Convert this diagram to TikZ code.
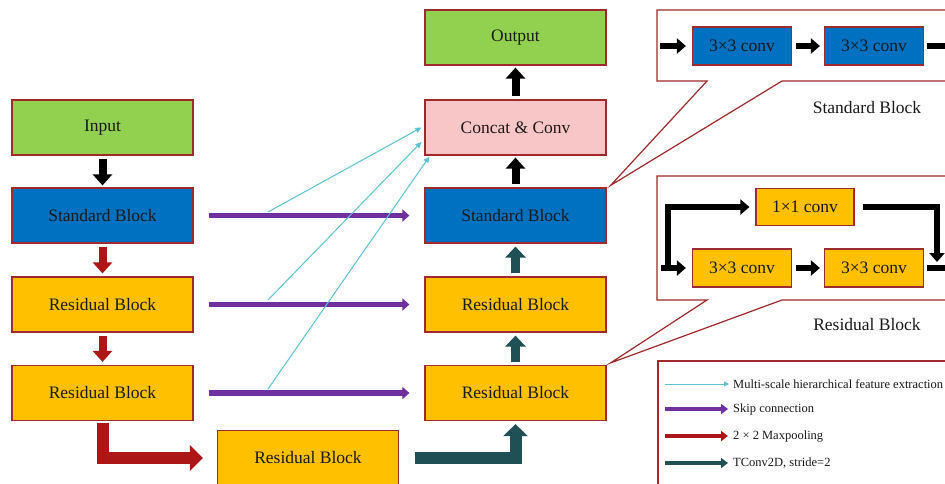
\documentclass[tikz,border=0pt]{standalone}
\usepackage{fontspec}
\setmainfont{Liberation Serif}
\usetikzlibrary{arrows.meta}
\definecolor{bgreen}{HTML}{92D050}
\definecolor{bblue}{HTML}{0070C0}
\definecolor{borange}{HTML}{FFC000}
\definecolor{bpink}{HTML}{F8C6C6}
\definecolor{bborder}{HTML}{9E2A2B}
\definecolor{bpurple}{HTML}{7030A0}
\definecolor{bred}{HTML}{AD1616}
\definecolor{bteal}{HTML}{1E5055}
\definecolor{bcyan}{HTML}{5BC3D3}
\definecolor{btext}{HTML}{1A1A1A}
\begin{document}
\begin{tikzpicture}[x=1pt,y=-1pt,
  blk/.style={draw=bborder, line width=1.2pt, minimum width=181pt, minimum height=55pt, inner sep=0pt, text=btext, font=\fontsize{17.5}{20}\selectfont},
  sblk/.style={draw=bborder, line width=1.2pt, minimum width=99pt, minimum height=38pt, inner sep=0pt, text=btext, font=\fontsize{17.5}{20}\selectfont},
  lbl/.style={text=btext, font=\fontsize{17.5}{20}\selectfont},
  leg/.style={text=btext, font=\fontsize{12.5}{14}\selectfont, anchor=west, inner sep=0pt},
  callout/.style={draw=bborder, line width=1.2pt, fill=white},
  blackarr/.style={black, line width=8pt, -{Triangle[width=19pt,length=11pt]}},
  redarr/.style={bred, line width=8pt, -{Triangle[width=19pt,length=11pt]}},
  tealarr/.style={bteal, line width=9pt, -{Triangle[width=20pt,length=11pt]}},
  purarr/.style={bpurple, line width=5.5pt, -{Triangle[width=12pt,length=7pt]}},
  cyanarr/.style={bcyan, line width=1pt, -{Triangle[width=5.5pt,length=6pt]}},
  bigred/.style={bred, line width=12pt, line join=miter, -{Triangle[width=25pt,length=13pt]}},
  bigteal/.style={bteal, line width=12pt, line join=miter, -{Triangle[width=24pt,length=12pt]}},
  smallarr/.style={black, line width=6.5pt, line join=miter, -{Triangle[width=15pt,length=9pt]}},
  legpur/.style={bpurple, line width=4.5pt, -{Triangle[width=10pt,length=7pt]}},
  legred/.style={bred, line width=4.5pt, -{Triangle[width=10pt,length=7pt]}},
  legteal/.style={bteal, line width=4.5pt, -{Triangle[width=10pt,length=7pt]}}
]
\clip (0,0) rectangle (945,483);
\fill[white] (0,0) rectangle (945,483);

% left column
\node[blk, fill=bgreen] (in) at (102.5,127.5) {Input};
\node[blk, fill=bblue] (sb1) at (102.5,215.5) {Standard Block};
\node[blk, fill=borange] (rb1) at (102.5,304.5) {Residual Block};
\node[blk, fill=borange] (rb2) at (102.5,393) {Residual Block};
\node[blk, fill=borange] (rb0) at (308,458) {Residual Block};

% middle column
\node[blk, fill=bgreen] (out) at (515.5,37.5) {Output};
\node[blk, fill=bpink] (cc) at (515.5,127.5) {Concat \& Conv};
\node[blk, fill=bblue] (sb2) at (515.5,215.5) {Standard Block};
\node[blk, fill=borange] (rb3) at (515.5,304.5) {Residual Block};
\node[blk, fill=borange] (rb4) at (515.5,393) {Residual Block};

% vertical arrows
\draw[blackarr, shorten <=3pt, shorten >=2pt] (in) -- (sb1);
\draw[redarr, shorten <=3pt, shorten >=3pt] (sb1) -- (rb1);
\draw[redarr, shorten <=3pt, shorten >=3pt] (rb1) -- (rb2);
\draw[blackarr, shorten <=3pt, shorten >=2pt] (sb2) -- (cc);
\draw[blackarr, shorten <=3pt, shorten >=2pt] (cc) -- (out);
\draw[tealarr, shorten <=3pt, shorten >=3pt] (rb3) -- (sb2);
\draw[tealarr, shorten <=3pt, shorten >=3pt] (rb4) -- (rb3);

% L-shaped arrows
\coordinate (rbs) at ([yshift=-2pt]rb2.south);
\draw[bigred] (rbs) |- ([xshift=-14pt]rb0.west);
\coordinate (tls) at ([xshift=16pt]rb0.east);
\draw[bigteal] (tls) -| ([yshift=-3pt]rb4.south);

% skip connections
\draw[purarr, shorten <=15pt, shorten >=15pt] (sb1) -- (sb2);
\draw[purarr, shorten <=15pt, shorten >=15pt] (rb1) -- (rb3);
\draw[purarr, shorten <=15pt, shorten >=15pt] (rb2) -- (rb4);

% multi-scale lines
\coordinate (m1) at (268,212);
\coordinate (m2) at (268,300);
\coordinate (m3) at (268,389);
\draw[cyanarr] (m1) -- ([xshift=-3pt]cc.west);
\draw[cyanarr] (m2) -- ([xshift=-3pt,yshift=-14.5pt]cc.west);
\draw[cyanarr] (m3) -- ([xshift=5pt,yshift=-1pt]cc.south west);

% standard block callout
\draw[callout] (657,10) -- (960,10) -- (960,81) -- (782,81) -- ([xshift=4pt,yshift=2pt]sb2.north east) -- (707,81) -- (657,81) -- cycle;
\node[sblk, fill=bblue] (s1) at (742,46) {3×3 conv};
\node[sblk, fill=bblue] (s2) at (874,46) {3×3 conv};
\coordinate (sin) at (660,46);
\coordinate (sout) at (955,46);
\draw[smallarr] (sin) -- ([xshift=-6pt]s1.west);
\draw[smallarr, shorten <=4pt, shorten >=4pt] (s1) -- (s2);
\draw[smallarr, shorten <=3pt] (s2) -- (sout);
\node[lbl] (slab) at (867,108) {Standard Block};

% residual block callout
\draw[callout] (657,176) -- (960,176) -- (960,300) -- (782,300) -- ([xshift=4pt,yshift=2pt]rb4.north east) -- (707,300) -- (657,300) -- cycle;
\node[sblk, fill=borange, minimum width=98pt, minimum height=37pt] (r0) at (805,207) {1×1 conv};
\node[sblk, fill=borange] (r1) at (742,268) {3×3 conv};
\node[sblk, fill=borange] (r2) at (874,268) {3×3 conv};
\coordinate (rin) at (661,268);
\coordinate (rbr) at (668,271.25);
\coordinate (rout) at (955,268);
\coordinate (rsum) at (937,262);
\draw[smallarr] (rin) -- ([xshift=-6pt]r1.west);
\draw[smallarr, shorten <=4pt, shorten >=4pt] (r1) -- (r2);
\draw[smallarr, shorten <=3pt] (r2) -- (rout);
\draw[smallarr] (rbr) |- ([xshift=-6pt]r0.west);
\draw[smallarr] ([xshift=8pt]r0.east) -| (rsum);
\node[lbl] (rlab) at (867,325) {Residual Block};

% legend
\draw[bborder, line width=1.2pt] (658,361) rectangle (960,500);
\node[leg] (t1) at (733,384) {Multi-scale hierarchical feature extraction};
\node[leg] (t2) at (733,409.5) {Skip connection};
\node[leg] (t3) at (733,436.5) {2 × 2 Maxpooling};
\node[leg] (t4) at (733,463.5) {TConv2D, stride=2};
\coordinate (l1) at (665,384);
\coordinate (l2) at (665,409);
\coordinate (l3) at (665,436);
\coordinate (l4) at (665,463);
\draw[cyanarr, -{Triangle[width=5pt,length=5pt]}] (l1) -- ([xshift=-4pt]t1.west);
\draw[legpur] (l2) -- ([xshift=-5pt]t2.west |- l2);
\draw[legred] (l3) -- ([xshift=-5pt]t3.west |- l3);
\draw[legteal] (l4) -- ([xshift=-5pt]t4.west |- l4);
\end{tikzpicture}
\end{document}
